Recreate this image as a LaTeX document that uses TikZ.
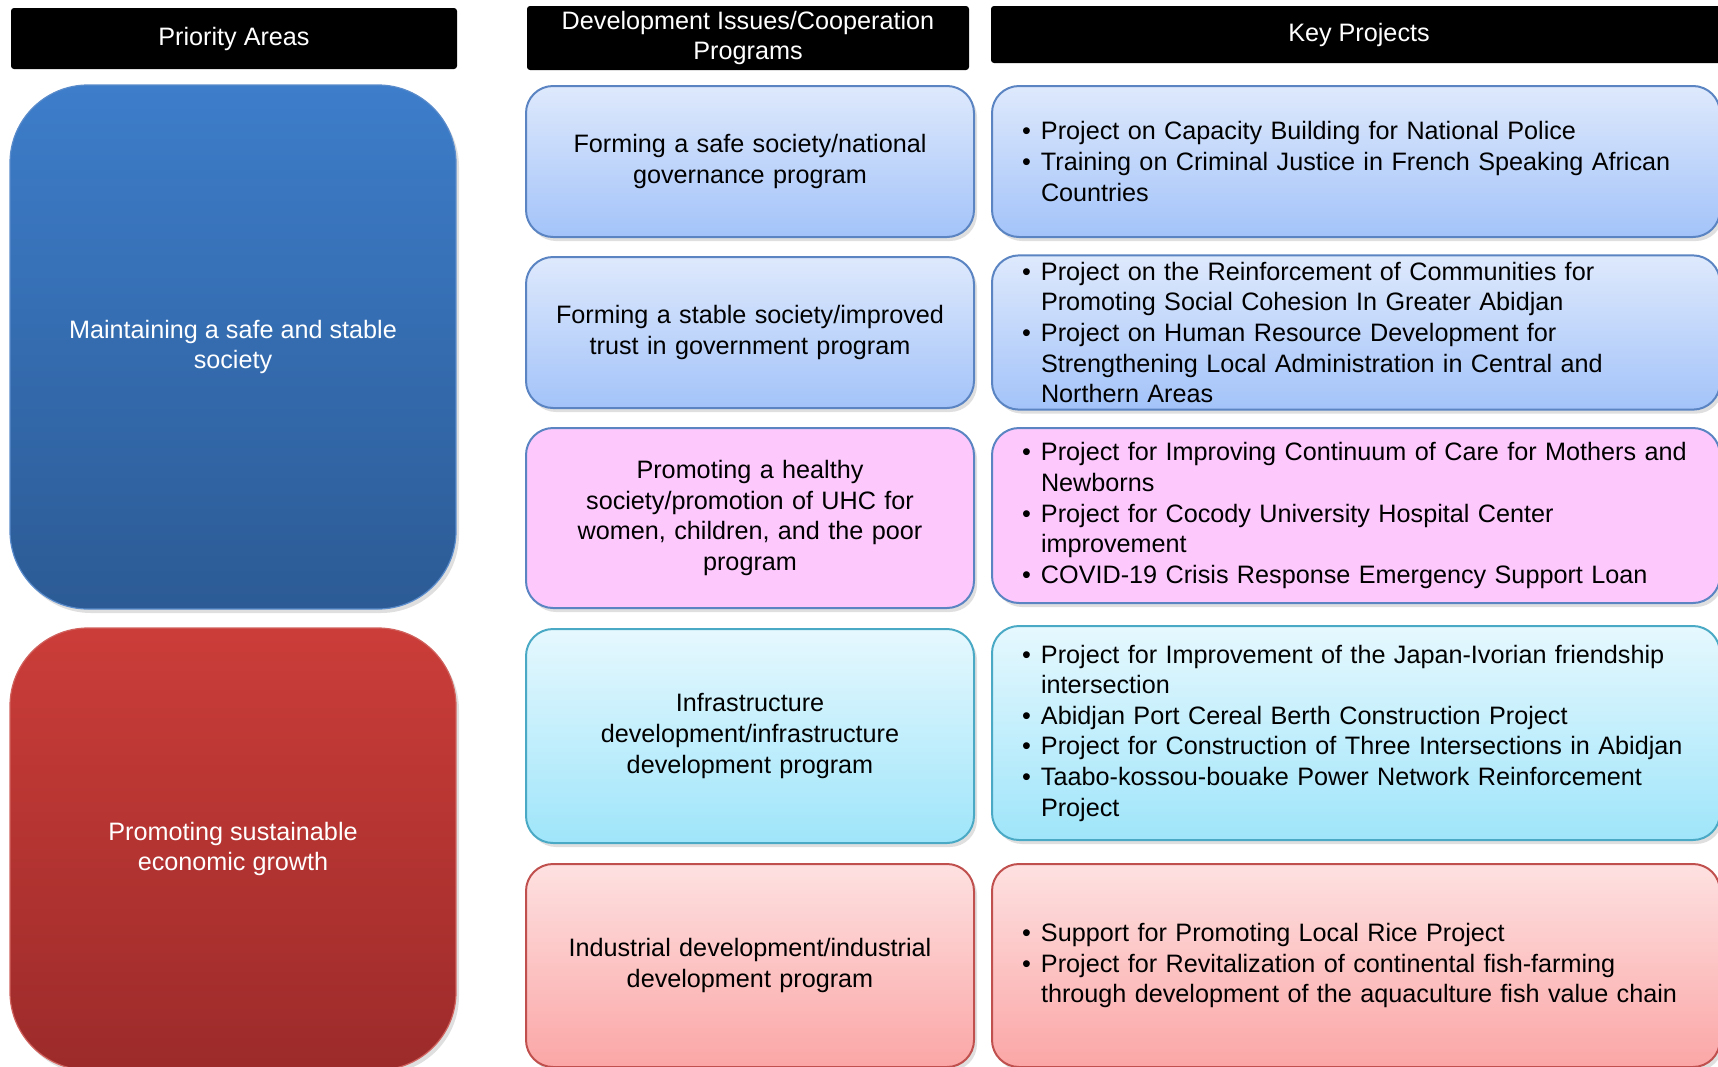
\documentclass[tikz,border=0pt]{standalone}
\usepackage{fontspec}
\setmainfont{Liberation Sans}
\usetikzlibrary{shadows}

\definecolor{areabluetop}{HTML}{3D7DCA}
\definecolor{areabluebot}{HTML}{2C5B95}
\definecolor{areablueline}{HTML}{5A8BCB}
\definecolor{arearedtop}{HTML}{CB3D39}
\definecolor{arearedbot}{HTML}{9C2B2A}
\definecolor{arearedline}{HTML}{D0625E}
\definecolor{govtop}{HTML}{DEE9FC}
\definecolor{govbot}{HTML}{A3C3F9}
\definecolor{govline}{HTML}{5A84C2}
\definecolor{healthfill}{HTML}{FDC9FD}
\definecolor{infratop}{HTML}{E6F8FE}
\definecolor{infrabot}{HTML}{9FE5FA}
\definecolor{infraline}{HTML}{4AA9C4}
\definecolor{indtop}{HTML}{FEE1E1}
\definecolor{indbot}{HTML}{FBA6A6}
\definecolor{indline}{HTML}{C0504D}

\newcommand{\bul}{\makebox[9.5pt][l]{\textbullet}}
\newcommand{\ind}{\hspace*{9.5pt}}

\begin{document}
\begin{tikzpicture}[x=0.5pt,y=-0.5pt,font=\fontsize{12.6}{15.3}\selectfont,
    head/.style={fill=black,text=white,rounded corners=1.5pt,align=center,inner sep=0pt},
    area/.style={rounded corners=39pt,line width=0.6pt,align=center,text=white,
      minimum width=223pt,drop shadow={shadow xshift=1.5pt,shadow yshift=-2pt,opacity=0.25}},
    prog/.style={rounded corners=13.5pt,line width=1pt,align=center,text width=208pt,
      inner xsep=8pt,drop shadow={shadow xshift=1.5pt,shadow yshift=-2pt,opacity=0.25}},
    proj/.style={rounded corners=13.5pt,line width=1pt,align=left,text width=334pt,
      inner xsep=15pt,drop shadow={shadow xshift=1.5pt,shadow yshift=-2pt,opacity=0.25}},
    gov/.style={draw=govline,top color=govtop,bottom color=govbot},
    health/.style={draw=govline,fill=healthfill},
    infra/.style={draw=infraline,top color=infratop,bottom color=infrabot},
    ind/.style={draw=indline,top color=indtop,bottom color=indbot}]
  \useasboundingbox (0,0) rectangle (1718,1066);

  % column heads
  \node[head,minimum width=223pt,minimum height=30.5pt] (hdr1) at (234,38.5) {Priority Areas};
  \node[head,minimum width=221pt,minimum height=32pt] (hdr2) at (748,38) {Development Issues/Cooperation\\Programs};
  \node[head,minimum width=368pt,minimum height=28.5pt] (hdr3) at (1359,34.5) {Key Projects};

  % priority areas
  \node[area,draw=areablueline,top color=areabluetop,bottom color=areabluebot,minimum height=262pt]
    (area1) at (233,347) {Maintaining a safe and stable\\society};
  \node[area,draw=arearedline,top color=arearedtop,bottom color=arearedbot,minimum height=221pt]
    (area2) at (233,849) {Promoting sustainable\\economic growth};

  % programs
  \node[prog,gov,minimum height=75.5pt] (prog1) at (750,161.5) {Forming a safe society/national\\governance program};
  \node[prog,gov,minimum height=75.5pt] (prog2) at (750,332.5) {Forming a stable society/improved\\trust in government program};
  \node[prog,health,minimum height=90pt] (prog3) at (750,518) {Promoting a healthy\\society/promotion of UHC for\\women, children, and the poor\\program};
  \node[prog,infra,minimum height=107pt] (prog4) at (750,736) {Infrastructure\\development/infrastructure\\development program};
  \node[prog,ind,minimum height=101.5pt] (prog5) at (750,965.5) {Industrial development/industrial\\development program};

  % key projects
  \node[proj,gov,minimum height=75.5pt] (proj1) at (1356,161.5) {%
    \bul Project on Capacity Building for National Police\\
    \bul Training on Criminal Justice in French Speaking African\\
    \ind Countries};
  \node[proj,gov,minimum height=75.5pt] (proj2) at (1356,332.5) {%
    \bul Project on the Reinforcement of Communities for\\
    \ind Promoting Social Cohesion In Greater Abidjan\\
    \bul Project on Human Resource Development for\\
    \ind Strengthening Local Administration in Central and\\
    \ind Northern Areas};
  \node[proj,health,minimum height=87.5pt] (proj3) at (1356,515.5) {%
    \bul Project for Improving Continuum of Care for Mothers and\\
    \ind Newborns\\
    \bul Project for Cocody University Hospital Center\\
    \ind improvement\\
    \bul COVID-19 Crisis Response Emergency Support Loan};
  \node[proj,infra,minimum height=107pt] (proj4) at (1356,733) {%
    \bul Project for Improvement of the Japan-Ivorian friendship\\
    \ind intersection\\
    \bul Abidjan Port Cereal Berth Construction Project\\
    \bul Project for Construction of Three Intersections in Abidjan\\
    \bul Taabo-kossou-bouake Power Network Reinforcement\\
    \ind Project};
  \node[proj,ind,minimum height=101.5pt] (proj5) at (1356,965.5) {%
    \bul Support for Promoting Local Rice Project\\
    \bul Project for Revitalization of continental fish-farming\\
    \ind through development of the aquaculture fish value chain};
\end{tikzpicture}
\end{document}
